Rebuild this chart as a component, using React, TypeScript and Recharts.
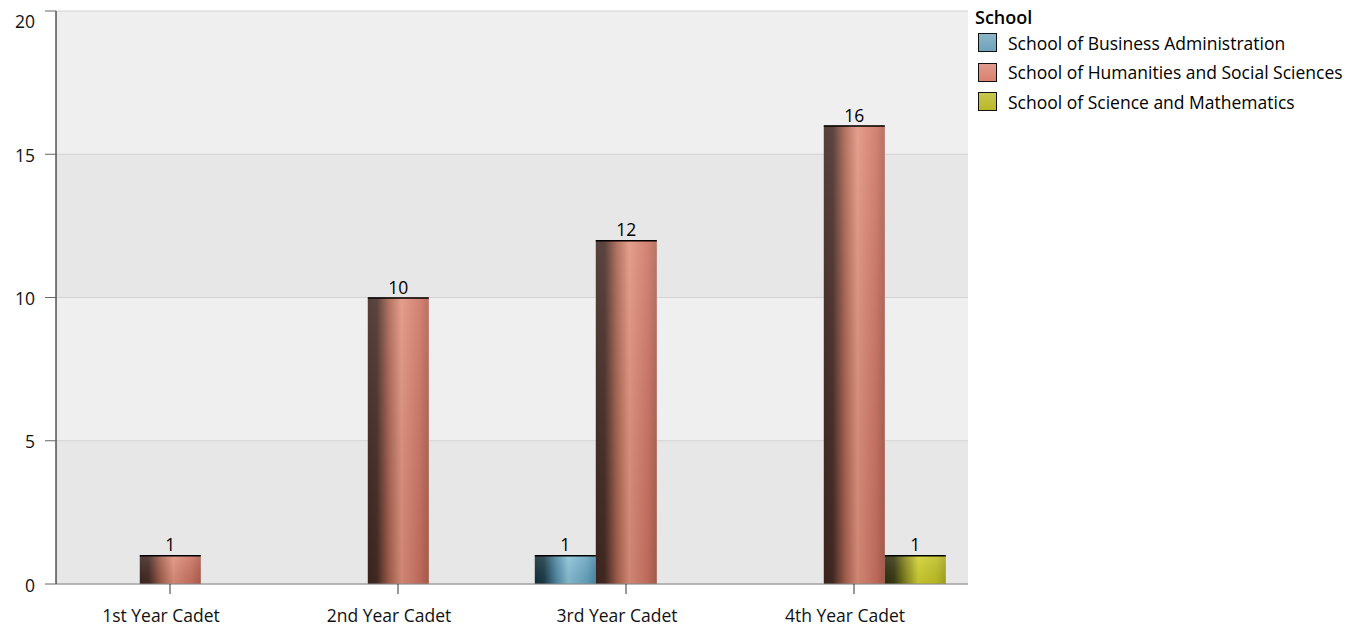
import { Bar, BarChart, CartesianGrid, LabelList, XAxis, YAxis } from "recharts";

const categories = ["1st Year Cadet", "2nd Year Cadet", "3rd Year Cadet", "4th Year Cadet"];
const business = [null, null, 1, null];
const humanities = [1, 10, 12, 16];
const science = [null, null, null, 1];
const yTicks = [0, 5, 10, 15, 20];

const series = [
  { key: "business", name: "School of Business Administration", swatch: "#6ea3ba", stops: ["#15303a", "#1d3c48", "#4f8aa5", "#8cc3d9", "#6aa6c2", "#4d8aa6"] },
  { key: "humanities", name: "School of Humanities and Social Sciences", swatch: "#d9826f", stops: ["#3e2620", "#472c25", "#a9624f", "#e1917d", "#cc7362", "#b0604f"] },
  { key: "science", name: "School of Science and Mathematics", swatch: "#b9b826", stops: ["#303010", "#3a3a12", "#8c8c20", "#d2d232", "#c2c228", "#a8a81e"] },
];

const data = categories.map((name, i) => ({
  name,
  business: business[i],
  humanities: humanities[i],
  science: science[i],
}));

const font = "'Open Sans', sans-serif";
const fs = 17.5;

function makeShape(key: string) {
  return (props: any) => {
    const { x, y, width, height } = props;
    if (!height || height <= 0) return <g />;
    return (
      <g>
        <rect x={x} y={y} width={width} height={height} fill={`url(#grad-${key})`} />
        <rect x={x} y={y} width={width} height={height} fill="url(#shade)" />
        <line x1={x} x2={x + width} y1={y + 0.5} y2={y + 0.5} stroke="#000" strokeWidth={1.5} />
      </g>
    );
  };
}

function YTick(props: any) {
  const { x, y, payload } = props;
  // the top label is pushed down so it stays inside the picture
  const shift = payload.value === 20 ? 6 : 3;
  return (
    <text x={x} y={y + shift} textAnchor="end" dominantBaseline="middle" fill="#111" fontSize={fs} fontFamily={font}>
      {payload.value}
    </text>
  );
}

function XTick(props: any) {
  const { x, y, payload } = props;
  return (
    <text x={x - 9} y={y} dy="0.71em" textAnchor="middle" fill="#111" fontSize={fs} fontFamily={font}>
      {payload.value}
    </text>
  );
}

function LegendBox() {
  return (
    <div style={{ position: "absolute", left: 967, top: -2, fontFamily: font, color: "#000" }}>
      <div style={{ fontSize: 18, lineHeight: "22px", fontWeight: 600, marginBottom: 0 }}>School</div>
      {series.map((s) => (
        <div key={s.key} style={{ display: "flex", alignItems: "center", height: 29.5, marginLeft: 3 }}>
          <span
            style={{
              display: "inline-block",
              width: 17,
              height: 17,
              border: "1.5px solid #111",
              background: `linear-gradient(${s.swatch}cc, ${s.swatch})`,
              marginRight: 11,
            }}
          />
          <span style={{ fontSize: fs }}>{s.name}</span>
        </div>
      ))}
    </div>
  );
}

export default function App() {
  return (
    <div style={{ position: "relative", width: 1360, height: 620 }}>
      <BarChart
        width={1360}
        height={620}
        data={data}
        margin={{ top: 3, right: 400, bottom: 0, left: 0 }}
        barCategoryGap="10%"
        barGap={0}
        style={{ overflow: "visible" }}
      >
        <defs>
          {series.map((s) => (
            <linearGradient key={s.key} id={`grad-${s.key}`} x1="0" y1="0" x2="1" y2="0">
              <stop offset="0%" stopColor={s.stops[0]} />
              <stop offset="15%" stopColor={s.stops[1]} />
              <stop offset="35%" stopColor={s.stops[2]} />
              <stop offset="55%" stopColor={s.stops[3]} />
              <stop offset="85%" stopColor={s.stops[4]} />
              <stop offset="100%" stopColor={s.stops[5]} />
            </linearGradient>
          ))}
          <linearGradient id="shade" x1="0" y1="0" x2="0" y2="1">
            <stop offset="0%" stopColor="#fff" stopOpacity={0.12} />
            <stop offset="100%" stopColor="#000" stopOpacity={0.08} />
          </linearGradient>
        </defs>
        <CartesianGrid
          vertical={false}
          stroke="#d2d2d2"
          horizontalFill={["#efefef", "#e7e7e7"]}
          fillOpacity={1}
        />
        <XAxis
          dataKey="name"
          height={44}
          stroke="#888"
          tickSize={10}
          tickMargin={16}
          tickLine={{ stroke: "#333" }}
          tick={<XTick />}
        />
        <YAxis
          width={48}
          domain={[0, 20]}
          ticks={yTicks}
          tickSize={11}
          tickMargin={10}
          axisLine={{ stroke: "#000" }}
          tickLine={{ stroke: "#666" }}
          tick={<YTick />}
        />
        {series.map((s) => (
          <Bar key={s.key} dataKey={s.key} name={s.name} fill={s.swatch} shape={makeShape(s.key)} isAnimationActive={false}>
            <LabelList
              dataKey={s.key}
              position="top"
              offset={4}
              fill="#000"
              fontSize={fs}
              fontFamily={font}
              formatter={(v: any) => (v == null ? "" : v)}
            />
          </Bar>
        ))}
      </BarChart>
      <LegendBox />
    </div>
  );
}
